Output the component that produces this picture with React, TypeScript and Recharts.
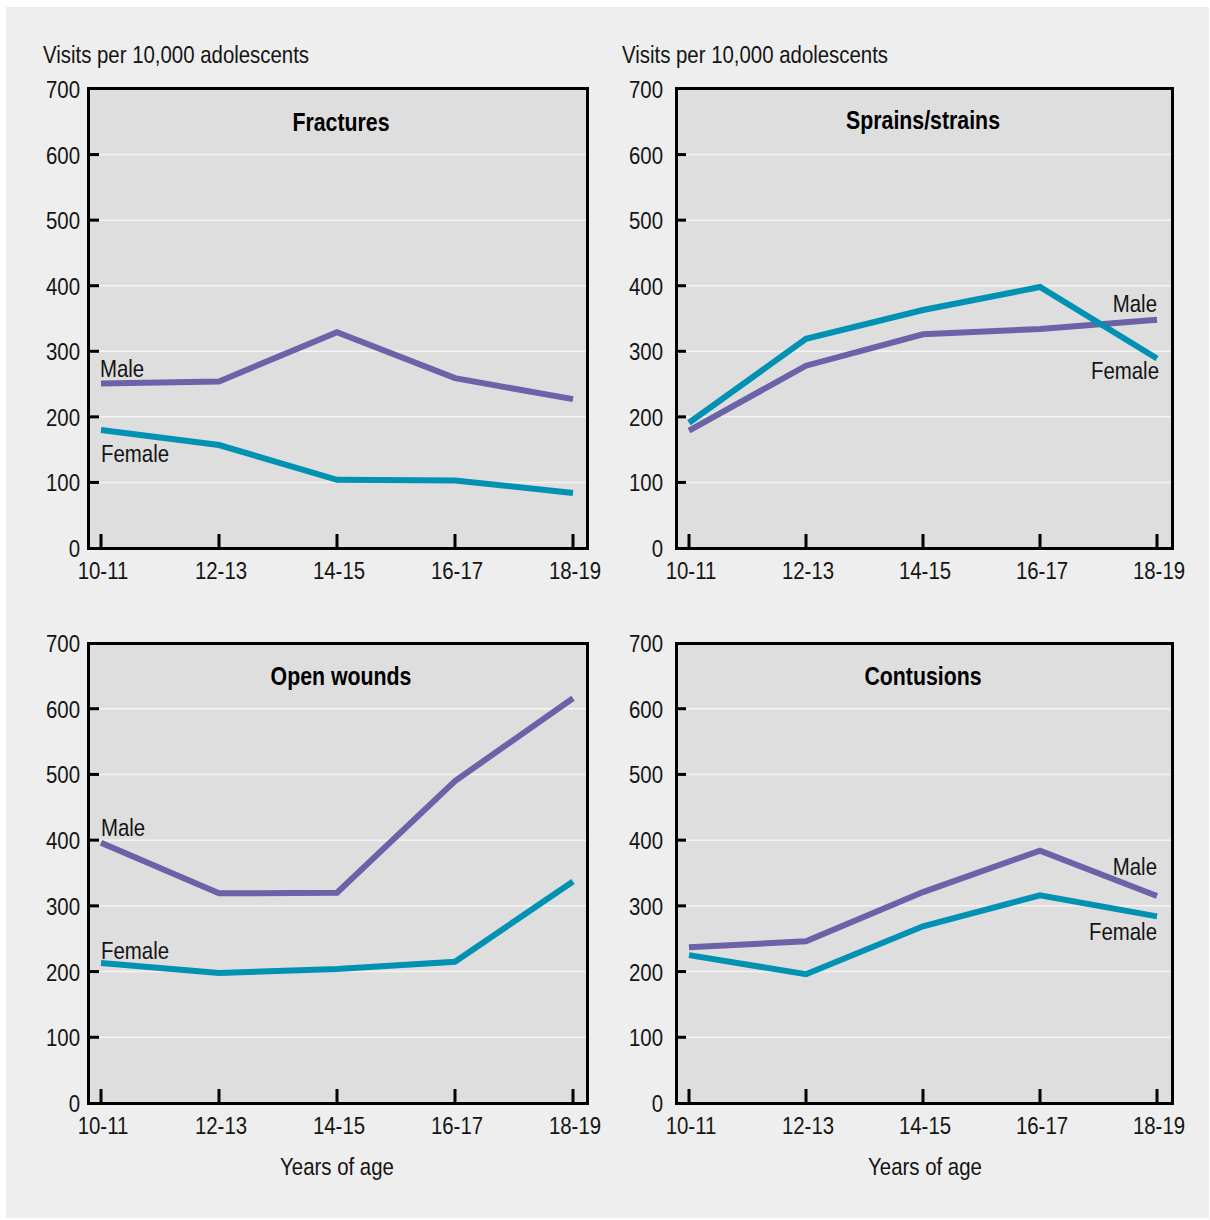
import React from "react"
import { LineChart, Line, XAxis, YAxis, CartesianGrid } from "recharts"

const AGES = ["10-11", "12-13", "14-15", "16-17", "18-19"]
const Y_TICKS = [0, 100, 200, 300, 400, 500, 600, 700]

const fracturesMale = [251, 254, 329, 259, 227]
const fracturesFemale = [180, 157, 104, 103, 84]
const sprainsMale = [179, 278, 326, 334, 348]
const sprainsFemale = [191, 319, 363, 398, 289]
const woundsMale = [396, 319, 320, 490, 616]
const woundsFemale = [213, 198, 204, 215, 337]
const contusionsMale = [237, 246, 321, 384, 315]
const contusionsFemale = [225, 196, 269, 316, 284]

const FONT = "'Liberation Sans', Arial, sans-serif"
const MALE = "#6a63a8"
const FEMALE = "#0091b3"
const INK = "#141414"
// the original uses a condensed grotesque, so regular Liberation Sans is squeezed horizontally
const SQUEEZE = 0.85

interface SeriesLabel {
    index: number
    anchor: "start" | "end"
    dx: number
    dy: number
}

interface PanelSpec {
    title: string
    male: number[]
    female: number[]
    left: number
    top: number
    width: number
    height: number
    axisWidth: number
    marginTop: number
    padL: number
    padR: number
    labelGap: number
    box: { x: number; y: number; w: number; h: number }
    maleLabel: SeriesLabel
    femaleLabel: SeriesLabel
}

const panels: PanelSpec[] = [
    {
        title: "Fractures", male: fracturesMale, female: fracturesFemale,
        left: 0, top: 40, width: 600, height: 568, axisWidth: 89, marginTop: 49, padL: 12, padR: 14, labelGap: 9,
        box: { x: 87, y: 87, w: 502, h: 463 },
        maleLabel: { index: 0, anchor: "start", dx: -1, dy: -6 },
        femaleLabel: { index: 0, anchor: "start", dx: 0, dy: 32 },
    },
    {
        title: "Sprains/strains", male: sprainsMale, female: sprainsFemale,
        left: 600, top: 40, width: 585, height: 568, axisWidth: 76, marginTop: 49, padL: 13, padR: 15, labelGap: 13,
        box: { x: 675, y: 87, w: 499, h: 463 },
        maleLabel: { index: 4, anchor: "end", dx: 0, dy: -8 },
        femaleLabel: { index: 4, anchor: "end", dx: 2, dy: 21 },
    },
    {
        title: "Open wounds", male: woundsMale, female: woundsFemale,
        left: 0, top: 600, width: 600, height: 563, axisWidth: 89, marginTop: 43, padL: 12, padR: 14, labelGap: 9,
        box: { x: 87, y: 642, w: 502, h: 463 },
        maleLabel: { index: 0, anchor: "start", dx: 0, dy: -7 },
        femaleLabel: { index: 0, anchor: "start", dx: 0, dy: -4 },
    },
    {
        title: "Contusions", male: contusionsMale, female: contusionsFemale,
        left: 600, top: 600, width: 585, height: 563, axisWidth: 76, marginTop: 43, padL: 13, padR: 15, labelGap: 13,
        box: { x: 675, y: 642, w: 499, h: 463 },
        maleLabel: { index: 4, anchor: "end", dx: 0, dy: -21 },
        femaleLabel: { index: 4, anchor: "end", dx: 0, dy: 24 },
    },
]

function CText({ x, y, anchor = "start", size = 24, bold = false, sx = SQUEEZE, children }: {
    x: number
    y: number
    anchor?: "start" | "middle" | "end"
    size?: number
    bold?: boolean
    sx?: number
    children: React.ReactNode
}) {
    return (
        <text
            transform={`translate(${x},${y}) scale(${sx},1)`}
            textAnchor={anchor}
            fontFamily={FONT}
            fontSize={size}
            fontWeight={bold ? "bold" : "normal"}
            fill={bold ? "#000" : INK}
        >
            {children}
        </text>
    )
}

// draws the "Male"/"Female" caption next to one point of the line
function labelDot(text: string, spec: SeriesLabel) {
    // eslint-disable-next-line @typescript-eslint/no-explicit-any
    return (p: any) => {
        if (p.index !== spec.index) return <g key={`d-${p.index}`} />
        return (
            <g key={`d-${p.index}`}>
                <CText x={p.cx + spec.dx} y={p.cy + spec.dy} anchor={spec.anchor}>
                    {text}
                </CText>
            </g>
        )
    }
}

function makeYTick(gap: number) {
    // eslint-disable-next-line @typescript-eslint/no-explicit-any
    return (p: any) => {
        const v = p.payload.value
        return (
            <g>
                {v > 0 && v < 700 && (
                    <line x1={p.x} x2={p.x + 10} y1={p.y} y2={p.y} stroke="#000" strokeWidth={3} />
                )}
                <CText x={p.x - gap} y={p.y + 9} anchor="end">
                    {v}
                </CText>
            </g>
        )
    }
}

// eslint-disable-next-line @typescript-eslint/no-explicit-any
function XTick(p: any) {
    return (
        <g>
            <line x1={p.x} x2={p.x} y1={p.y} y2={p.y - 14} stroke="#000" strokeWidth={3} />
            <CText x={p.x + 2} y={p.y + 31} anchor="middle">
                {p.payload.value}
            </CText>
        </g>
    )
}

function Panel({ spec }: { spec: PanelSpec }) {
    const data = AGES.map((age, i) => ({ age, male: spec.male[i], female: spec.female[i] }))
    return (
        <>
            <div
                style={{
                    position: "absolute", left: spec.box.x, top: spec.box.y, width: spec.box.w, height: spec.box.h,
                    background: "#dedede",
                }}
            />
            <div style={{ position: "absolute", left: spec.left, top: spec.top }}>
                <LineChart
                    width={spec.width}
                    height={spec.height}
                    data={data}
                    margin={{ top: spec.marginTop, right: 13, bottom: 0, left: 0 }}
                >
                    <CartesianGrid vertical={false} stroke="#f4f4f4" strokeWidth={1.5} />
                    <XAxis
                        dataKey="age"
                        height={60}
                        padding={{ left: spec.padL, right: spec.padR }}
                        axisLine={false}
                        tickLine={false}
                        tickSize={0}
                        tickMargin={0}
                        tick={XTick}
                        interval={0}
                    />
                    <YAxis
                        width={spec.axisWidth}
                        domain={[0, 700]}
                        ticks={Y_TICKS}
                        axisLine={false}
                        tickLine={false}
                        tickSize={0}
                        tickMargin={0}
                        tick={makeYTick(spec.labelGap)}
                        interval={0}
                    />
                    <Line
                        type="linear"
                        dataKey="male"
                        stroke={MALE}
                        strokeWidth={6}
                        strokeLinejoin="miter"
                        dot={labelDot("Male", spec.maleLabel)}
                        activeDot={false}
                        isAnimationActive={false}
                    />
                    <Line
                        type="linear"
                        dataKey="female"
                        stroke={FEMALE}
                        strokeWidth={6}
                        strokeLinejoin="miter"
                        dot={labelDot("Female", spec.femaleLabel)}
                        activeDot={false}
                        isAnimationActive={false}
                    />
                </LineChart>
            </div>
            <div
                style={{
                    position: "absolute", left: spec.box.x, top: spec.box.y, width: spec.box.w, height: spec.box.h,
                    border: "3px solid #000", boxSizing: "border-box", pointerEvents: "none",
                }}
            />
        </>
    )
}

export default function App() {
    return (
        <div style={{ position: "absolute", left: 0, top: 0, width: 1210, height: 1220, background: "#fff" }}>
            <style>{`.recharts-surface { overflow: visible; }`}</style>
            <div style={{ position: "absolute", left: 6, top: 7, width: 1203, height: 1211, background: "#eeeeee" }} />
            {panels.map((p) => (
                <Panel key={p.title} spec={p} />
            ))}
            <svg
                width={1210}
                height={1220}
                style={{ position: "absolute", left: 0, top: 0, pointerEvents: "none" }}
            >
                <CText x={43} y={63}>Visits per 10,000 adolescents</CText>
                <CText x={622} y={63}>Visits per 10,000 adolescents</CText>
                <CText x={337} y={1175} anchor="middle">Years of age</CText>
                <CText x={925} y={1175} anchor="middle">Years of age</CText>
                <CText x={341} y={131} anchor="middle" size={26} bold sx={0.82}>Fractures</CText>
                <CText x={923} y={129} anchor="middle" size={26} bold sx={0.82}>Sprains/strains</CText>
                <CText x={341} y={685} anchor="middle" size={26} bold sx={0.82}>Open wounds</CText>
                <CText x={923} y={685} anchor="middle" size={26} bold sx={0.82}>Contusions</CText>
            </svg>
        </div>
    )
}
